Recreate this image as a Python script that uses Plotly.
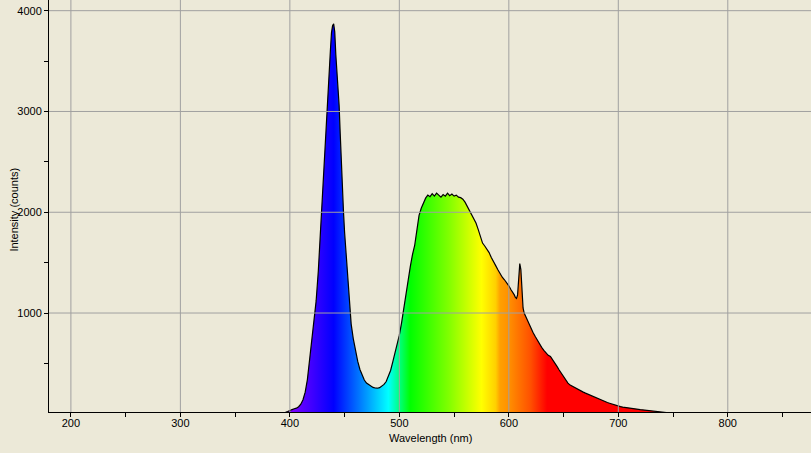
import plotly.graph_objects as go

# ---- data ----
wavelength_nm = [
    380, 382, 384, 386, 388, 390, 392, 394, 396, 398, 400, 402, 404, 406, 408, 410,
    412, 414, 416, 418, 420, 422, 424, 426, 427, 428, 429, 430, 431, 432, 433, 434,
    435, 436, 437, 438, 439, 440, 441, 442, 443, 444, 445, 446, 447, 448, 449, 450,
    451, 452, 454, 456, 458, 460, 462, 464, 466, 468, 470, 472, 474, 476, 478, 480,
    482, 484, 486, 488, 490, 492, 494, 496, 498, 500, 502, 504, 506, 508, 510, 512,
    514, 516, 518, 520, 522, 524, 526, 528, 530, 532, 534, 536, 538, 540, 542, 544,
    546, 548, 550, 552, 554, 556, 558, 560, 562, 564, 566, 568, 570, 572, 574, 576,
    578, 580, 582, 584, 586, 588, 590, 592, 594, 596, 598, 600, 602, 604, 605, 606,
    607, 608, 609, 610, 611, 612, 613, 614, 615, 616, 618, 620, 622, 624, 626, 628,
    630, 632, 634, 636, 638, 640, 642, 644, 646, 648, 650, 652, 654, 656, 658, 660,
    662, 664, 666, 668, 670, 672, 674, 676, 678, 680, 682, 684, 686, 688, 690, 692,
    694, 696, 698, 700, 702, 704, 706, 708, 710, 712, 714, 716, 718, 720, 722, 724,
    726, 728, 730, 732, 734, 736, 738, 740, 742, 744, 746, 748, 750,
]
intensity_counts = [
    0, 2, 6, 3, 8, 5, 10, 12, 15, 22, 35, 42, 50, 56, 70, 95,
    140, 215, 340, 550, 730, 900, 1120, 1420, 1630, 1820, 2000, 2150, 2400, 2680, 2900, 3030,
    3220, 3400, 3600, 3780, 3850, 3870, 3790, 3560, 3420, 3240, 3060, 2780, 2480, 2200, 2000, 1800,
    1660, 1520, 1200, 890, 740, 620, 520, 440, 380, 335, 305, 290, 275, 262, 256, 254,
    260, 272, 292, 320, 370, 430, 515, 600, 690, 780, 900, 1050, 1200, 1320, 1460, 1580,
    1670, 1820, 1970, 2040, 2090, 2140, 2170, 2155, 2185, 2160, 2190, 2170, 2150, 2175, 2160, 2190,
    2165, 2180, 2160, 2170, 2150, 2145, 2130, 2100, 2060, 2020, 1985, 1940, 1893, 1830, 1765, 1694,
    1665, 1635, 1600, 1550, 1515, 1470, 1430, 1390, 1355, 1330, 1305, 1270, 1231, 1200, 1180, 1155,
    1145, 1180, 1380, 1490, 1430, 1230, 1050, 1000, 975, 950, 910, 851, 810, 770, 730, 695,
    660, 630, 600, 580, 570, 540, 505, 470, 435, 400, 368, 338, 305, 285, 272, 260,
    248, 238, 226, 215, 205, 195, 185, 175, 165, 155, 146, 137, 128, 120, 112, 105,
    97, 90, 83, 77, 72, 67, 63, 59, 55, 52, 49, 47, 44, 42, 40, 38,
    36, 34, 32, 30, 28, 27, 25, 23, 18, 12, 6, 3, 0,
]

x_ticks = [200, 300, 400, 500, 600, 700, 800]
y_ticks = [1000, 2000, 3000, 4000]

# wavelength -> colour stops for the rainbow fill
color_wl = [380, 400, 420, 440, 460, 475, 490, 500, 510, 545, 575, 588, 592, 600, 620, 635, 750]
color_hex = ["#9a00ff", "#7f00ff", "#4000ff", "#0000ff", "#0066ff", "#00b3ff", "#00ffff",
             "#00ff80", "#00ff00", "#80ff00", "#ffff00", "#ffd000", "#ffa000", "#ff9000",
             "#ff5000", "#ff0000", "#ff0000"]

wl0, wl1 = color_wl[0], color_wl[-1]
colorscale = [[(w - wl0) / (wl1 - wl0), c] for w, c in zip(color_wl, color_hex)]

BG = "#ECE9D8"
GRID = "#A0A0A0"
FONT = dict(family="Tahoma, 'Liberation Sans', Arial, sans-serif", size=11, color="black")

fig = go.Figure()
fig.add_trace(go.Scatter(
    x=wavelength_nm, y=intensity_counts, mode="lines",
    line=dict(color="black", width=1.2),
    fill="tozeroy",
    fillgradient=dict(type="horizontal", colorscale=colorscale, start=wl0, stop=wl1),
    hoverinfo="skip", showlegend=False,
))

shapes = []
for v in x_ticks:
    shapes.append(dict(type="line", xref="x", yref="paper", x0=v, x1=v, y0=0, y1=1,
                       line=dict(color=GRID, width=1), layer="above"))
for v in y_ticks:
    shapes.append(dict(type="line", xref="paper", yref="y", x0=0, x1=1, y0=v, y1=v,
                       line=dict(color=GRID, width=1), layer="above"))

fig.update_layout(
    width=811, height=453,
    margin=dict(l=49, r=0, t=0, b=41, pad=0),
    paper_bgcolor=BG, plot_bgcolor=BG,
    font=FONT,
    shapes=shapes,
    annotations=[
        dict(text="Wavelength (nm)", xref="paper", yref="paper", x=0.5, y=-26 / 412,
             xanchor="center", yanchor="middle", showarrow=False, font=FONT),
        dict(text="Intensity (counts)", xref="paper", yref="paper", x=-34.5 / 762, y=0.49,
             xanchor="center", yanchor="middle", textangle=-90, showarrow=False, font=FONT),
    ],
    xaxis=dict(range=[180, 876], tickvals=x_ticks, showgrid=False, zeroline=False,
               showline=True, linecolor="black", linewidth=1,
               ticks="outside", ticklen=4, tickcolor="black", tickwidth=1,
               ticklabelstandoff=-3,
               minor=dict(dtick=50, tick0=0, ticks="outside", ticklen=4, tickcolor="black",
                          showgrid=False),
               tickfont=FONT, fixedrange=True, automargin=False),
    yaxis=dict(range=[18, 4106], tickvals=y_ticks, showgrid=False, zeroline=False,
               showline=True, linecolor="black", linewidth=1,
               ticks="outside", ticklen=4, tickcolor="black", tickwidth=1,
               minor=dict(dtick=500, tick0=0, ticks="outside", ticklen=4, tickcolor="black",
                          showgrid=False),
               tickfont=FONT, fixedrange=True, automargin=False),
)

fig.write_html(
    "out.html",
    config={"displayModeBar": False},
    post_script="document.body.style.margin='0';document.body.style.background='#ECE9D8';"
                "document.documentElement.style.overflow='hidden';",
)
